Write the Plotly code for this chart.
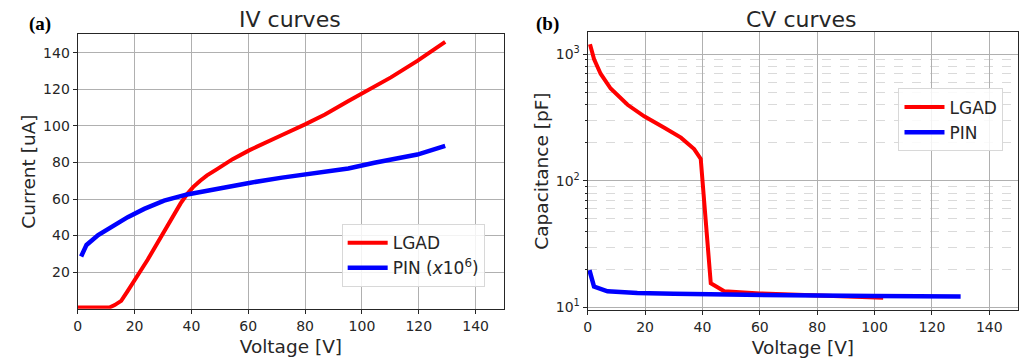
import plotly.graph_objects as go

# ---- IV measurements ----
iv_lgad_v = [0, 3, 6, 9, 11.3, 13, 15.3, 17.5, 20, 22.3, 24.6, 27, 29.2, 31.5, 33.9, 36.2, 38.5, 40.6,
             43.1, 45.5, 48.9, 54.5, 60.3, 66.1, 71.9, 80, 87, 95.1, 99.7, 110.2, 119.5, 129.3]
iv_lgad_i = [0.7, 0.7, 0.7, 0.7, 0.8, 2.0, 4.3, 9.5, 16.0, 21.2, 26.8, 33.3, 39.4, 45.7, 51.9, 57.6, 62.7, 66.5,
             70.0, 72.9, 76.2, 81.8, 86.6, 91.1, 95.0, 100.8, 106.2, 113.4, 117.5, 126.5, 135.5, 145.9]

iv_pin_v = [1.2, 3.1, 7.2, 11.8, 17.6, 23.4, 30.4, 38.5, 46.6, 52.4, 60.3, 71.9, 83.4, 95.2, 104.4, 119.5, 129.3]
iv_pin_i = [28.6, 34.9, 40.3, 44.7, 50.1, 54.6, 59.1, 62.5, 65.0, 66.6, 68.8, 71.7, 74.4, 76.7, 79.8, 84.3, 89.1]

# ---- CV measurements ----
cv_lgad_v = [0.8, 2.2, 4.5, 8.0, 13.9, 19.7, 26.7, 32.5, 37.1, 39.4, 42.9, 47.6, 60, 80, 103]
cv_lgad_c = [1197, 915, 700, 535, 398, 323, 262, 219, 178, 149, 15.5, 13.4, 12.9, 12.5, 11.9]

cv_pin_v = [0.6, 2.2, 6.9, 17.3, 30, 46.4, 60, 80, 100, 130]
cv_pin_c = [19.7, 14.6, 13.4, 13.0, 12.8, 12.6, 12.5, 12.4, 12.3, 12.2]

iv_ticks = [20, 40, 60, 80, 100, 120, 140]
v_ticks = [0, 20, 40, 60, 80, 100, 120, 140]
cv_tickvals = [10, 100, 1000]
cv_ticktext = ["10<sup>1</sup>", "10<sup>2</sup>", "10<sup>3</sup>"]
cv_minor = [m * d for d in (10, 100) for m in range(2, 10)]

W, H = 1022, 358
RED, BLUE = "#ff0000", "#0000ff"
FRAME = "#262626"
GRID = "#b0b0b0"
FONT = "DejaVu Sans"


def px_x(p):
    return p / W


def px_y(p):
    return 1 - p / H


fig = go.Figure()

fig.add_trace(go.Scatter(x=iv_lgad_v, y=iv_lgad_i, mode="lines", name="LGAD",
                         line=dict(color=RED, width=4),
                         xaxis="x", yaxis="y", legend="legend"))
fig.add_trace(go.Scatter(x=iv_pin_v, y=iv_pin_i, mode="lines",
                         name="PIN (<i>x</i>10<sup>6</sup>)",
                         line=dict(color=BLUE, width=4.5),
                         xaxis="x", yaxis="y", legend="legend"))
fig.add_trace(go.Scatter(x=cv_lgad_v, y=cv_lgad_c, mode="lines", name="LGAD",
                         line=dict(color=RED, width=4), xaxis="x2", yaxis="y2",
                         legend="legend2"))
fig.add_trace(go.Scatter(x=cv_pin_v, y=cv_pin_c, mode="lines", name="PIN",
                         line=dict(color=BLUE, width=4.5), xaxis="x2", yaxis="y2",
                         legend="legend2"))

axis_common = dict(
    showline=True, linecolor=FRAME, linewidth=1.2, mirror=True,
    ticks="outside", ticklen=4, tickcolor=FRAME, tickwidth=1,
    showgrid=True, gridcolor=GRID, gridwidth=1, zeroline=False,
    tickfont=dict(family=FONT, size=14, color="#262626"),
)
title_font = dict(family=FONT, size=18.5, color="#262626")
legend_font = dict(family=FONT, size=17, color="#262626")

fig.update_layout(
    width=W, height=H,
    margin=dict(l=0, r=0, t=0, b=0),
    paper_bgcolor="white", plot_bgcolor="white",
    font=dict(family=FONT, color="#262626"),
    xaxis=dict(domain=[px_x(74), px_x(502)], range=[0, 150], tickvals=v_ticks,
               anchor="y",
               title=dict(text="Voltage [V]", font=title_font, standoff=7),
               **axis_common),
    yaxis=dict(domain=[px_y(314), px_y(35)], range=[0, 150], tickvals=iv_ticks,
               anchor="x",
               title=dict(text="Current [uA]", font=title_font, standoff=2),
               **axis_common),
    xaxis2=dict(domain=[px_x(586), px_x(1018)], range=[0, 150], tickvals=v_ticks,
                anchor="y2",
                title=dict(text="Voltage [V]", font=title_font, standoff=7),
                **axis_common),
    yaxis2=dict(domain=[px_y(315), px_y(33)], type="log", range=[0.982, 3.171],
                tickvals=cv_tickvals, ticktext=cv_ticktext, anchor="x2",
                minor=dict(tickvals=cv_minor, showgrid=True, gridcolor="#dadada",
                           griddash="dash", gridwidth=0.8, ticks="outside",
                           ticklen=2, tickcolor=FRAME),
                title=dict(text="Capacitance [pF]", font=title_font, standoff=2),
                **axis_common),
    legend=dict(x=px_x(339), y=px_y(228), xanchor="left", yanchor="top",
                bgcolor="rgba(255,255,255,0.85)", bordercolor="#d8d8d8",
                borderwidth=1, font=legend_font, itemwidth=40, tracegroupgap=0),
    legend2=dict(x=px_x(898), y=px_y(90), xanchor="left", yanchor="top",
                 bgcolor="rgba(255,255,255,0.85)", bordercolor="#d8d8d8",
                 borderwidth=1, font=legend_font, itemwidth=40, tracegroupgap=0),
    showlegend=True,
)

# Panel titles and labels
for txt, xc in (("IV curves", 287), ("CV curves", 801)):
    fig.add_annotation(text=txt, x=px_x(xc), y=px_y(20), xref="paper", yref="paper",
                       xanchor="center", yanchor="middle", showarrow=False,
                       font=dict(family=FONT, size=22, color="#262626"))
for txt, xc in (("<b>(a)</b>", 36), ("<b>(b)</b>", 546)):
    fig.add_annotation(text=txt, x=px_x(xc), y=px_y(24), xref="paper", yref="paper",
                       xanchor="center", yanchor="middle", showarrow=False,
                       font=dict(family="Liberation Serif", size=19, color="black"))

fig.write_html("out.html")
